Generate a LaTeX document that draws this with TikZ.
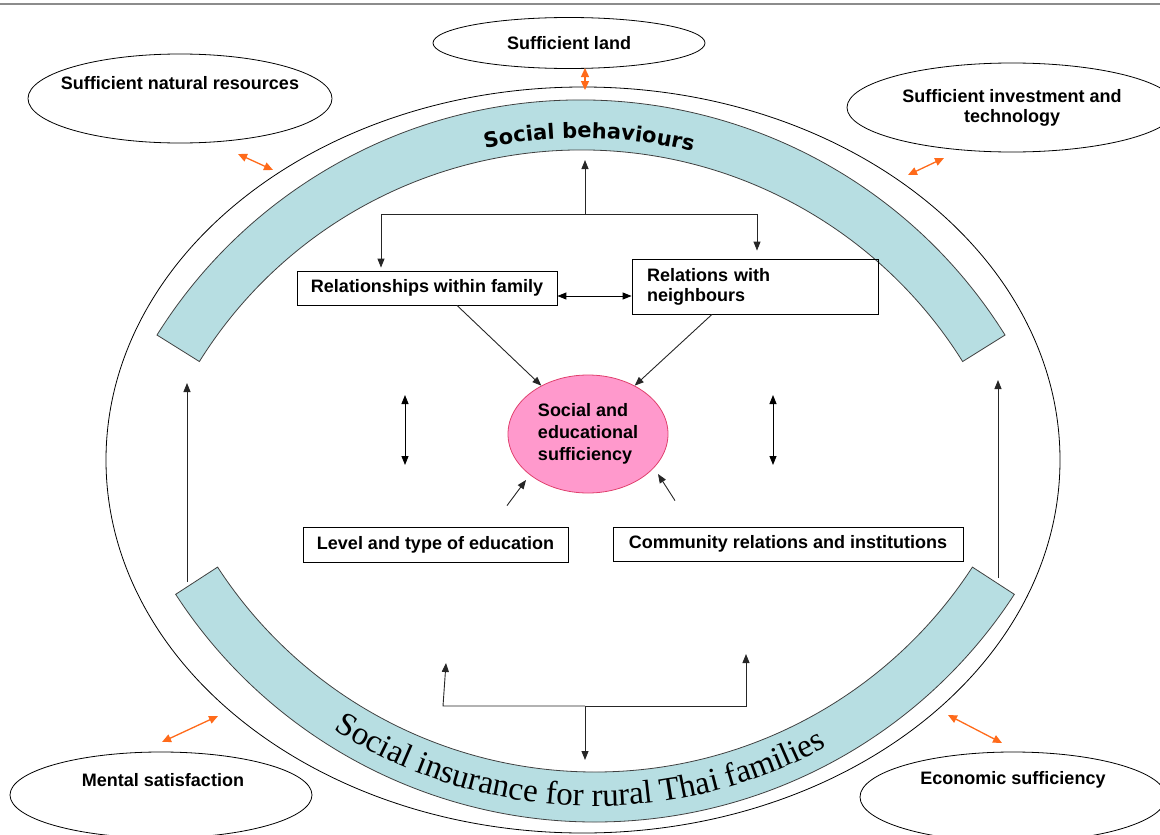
\documentclass[tikz,border=0pt]{standalone}
\usepackage{fontspec}
\setmainfont{Liberation Sans}
\newfontfamily\heavyfont{DejaVu Sans}
\newfontfamily\serifband{Liberation Serif}
\usetikzlibrary{calc,shapes.geometric,arrows.meta,decorations.text}

\definecolor{bandblue}{HTML}{B7DEE2}
\definecolor{corepink}{HTML}{FF99CC}
\definecolor{coreline}{HTML}{E0406E}
\definecolor{linkorange}{HTML}{FF6A1A}

\newcommand\lblsize{\bfseries\fontsize{18}{20}\selectfont}
\newcommand\topbandfont{\heavyfont\bfseries\fontsize{21}{25}\selectfont}
\newcommand\lowbandfont{\serifband\fontsize{33}{38}\selectfont}

\tikzset{
  satellite/.style={ellipse, draw, line width=0.8pt, font=\lblsize, inner sep=0pt},
  box/.style={rectangle, draw, line width=0.8pt, font=\lblsize, inner sep=0pt},
  band/.style={draw=black!75, fill=bandblue, line width=0.8pt},
  arr/.style={-{Triangle[length=9pt,width=7pt]}, line width=0.9pt, draw=black!85},
  darr/.style={{Triangle[length=9pt,width=7pt]}-{Triangle[length=9pt,width=7pt]}, line width=0.9pt},
  orangearr/.style={{Triangle[length=9pt,width=8pt]}-{Triangle[length=9pt,width=8pt]}, draw=linkorange, line width=1.3pt}
}

\begin{document}
\begin{tikzpicture}[x=1pt,y=1pt]
    \useasboundingbox (0,0) rectangle (1160,-835);
    \draw[black!45, line width=1.5pt] (0,-4) -- (1160,-4);

    \draw[line width=0.8pt] (583,-460) ellipse [x radius=477, y radius=373];

    % the two bands
    \draw[band, shift={(581,-600)}] (32:500) arc[start angle=32, end angle=148, radius=500]
    -- (148:450) arc[start angle=148, end angle=32, radius=450] -- cycle;
    \path[shift={(581,-600)}, decorate, decoration={text along path, text align=center,
        text={|\topbandfont|Social behaviours}}] (119:462) arc[start angle=119, end angle=59, radius=462];

    \draw[band, shift={(595,-322)}] (213:500) arc[start angle=213, end angle=327, radius=500]
    -- (327:450) arc[start angle=327, end angle=213, radius=450] -- cycle;
    \path[shift={(595,-322)}, decorate, decoration={text along path, text align=center,
        text={|\lowbandfont|Social insurance for rural Thai families}}] (213:484) arc[start angle=213, end angle=323, radius=484];

    % outer ellipses
    \node[satellite, minimum width=272, minimum height=51] (land) at (569,-43) {Sufficient land};
    \node[satellite, minimum width=304, minimum height=89] (natres) at (180,-98.5) {};
    \node[font=\lblsize] (natreslbl) at ($(natres.center)+(0,15.5)$) {Sufficient natural resources};
    \node[satellite, minimum width=330, minimum height=89, align=center] (invest) at (1012,-107.5) {Sufficient investment and\\technology};
    \node[satellite, minimum width=302, minimum height=86] (mental) at (161,-795) {};
    \node[font=\lblsize] (mentallbl) at ($(mental.center)+(2,15)$) {Mental satisfaction};
    \node[satellite, minimum width=306, minimum height=90] (econ) at (1013,-797) {};
    \node[font=\lblsize] (econlbl) at ($(econ.center)+(0,17)$) {Economic sufficiency};

    % inner boxes
    \node[box, minimum width=260, minimum height=34] (family) at (427,-288) {Relationships within family};
    \node[box, minimum width=246, minimum height=55, text width=216, align=left] (neigh) at (755,-286.5) {Relations with\\neighbours};
    \node[ellipse, draw=coreline, fill=corepink, line width=0.8pt, inner sep=0pt, minimum width=160, minimum height=118,
        align=left, font=\bfseries\fontsize{18}{22}\selectfont] (core) at (588,-434) {Social and\\educational\\sufficiency};
    \node[box, minimum width=265, minimum height=35] (edu) at (435.5,-544.5) {Level and type of education};
    \node[box, minimum width=350, minimum height=34] (comm) at (788,-544) {Community relations and institutions};

    % black connectors
    \coordinate (jtop) at (585,-214);
    \coordinate (sbtip) at (585,-160);
    \draw[arr] (jtop) -- (sbtip);
    \draw[arr] (jtop) -| ($(family.north)+(-46,3)$);
    \draw[arr] (jtop) -| ($(neigh.north)+(2,8)$);
    \draw[darr] ($(family.east)+(0,-8)$) -- ($(neigh.west)+(0,-9.5)$);
    \draw[arr] ($(family.south)+(30,0)$) -- (core.134);
    \draw[arr] ($(neigh.south)+(-43,0)$) -- (core.46);

    \coordinate (lv1) at (405,-395);
    \coordinate (lv2) at (405,-465);
    \coordinate (rv1) at (773,-395);
    \coordinate (rv2) at (773,-465);
    \draw[darr] (lv1) -- (lv2);
    \draw[darr] (rv1) -- (rv2);

    \draw[arr] ($(edu.north)+(71.5,21)$) -- ($(core.center)+(-62,-46)$);
    \draw[arr] ($(comm.north)+(-113,26)$) -- ($(core.center)+(70,-40)$);

    \coordinate (lbase) at (187,-582);
    \coordinate (ltip) at (187,-383);
    \coordinate (rbase) at (998,-578);
    \coordinate (rtip) at (998,-380);
    \draw[arr] (lbase) -- (ltip);
    \draw[arr] (rbase) -- (rtip);

    \coordinate (jbot) at (585,-706);
    \coordinate (jbl) at (443,-706);
    \coordinate (sitip) at (585,-760);
    \coordinate (lutip) at (446,-663);
    \coordinate (rutip) at (746,-654);
    \draw[arr] (jbot) -- (sitip);
    \draw[arr] (jbot) -- (jbl) -- (lutip);
    \draw[arr] (jbot) -| (rutip);

    % orange links
    \coordinate (ol1) at (585,-68);
    \coordinate (ol2) at (585,-90);
    \coordinate (on1) at (238,-154);
    \coordinate (on2) at (273,-170);
    \coordinate (oi1) at (908,-175);
    \coordinate (oi2) at (944,-158);
    \coordinate (om1) at (162,-742);
    \coordinate (om2) at (218,-716);
    \coordinate (oe1) at (948,-715);
    \coordinate (oe2) at (1002,-743);
    \draw[orangearr] (ol1) -- (ol2);
    \draw[orangearr] (on1) -- (on2);
    \draw[orangearr] (oi1) -- (oi2);
    \draw[orangearr] (om1) -- (om2);
    \draw[orangearr] (oe1) -- (oe2);
\end{tikzpicture}
\end{document}
